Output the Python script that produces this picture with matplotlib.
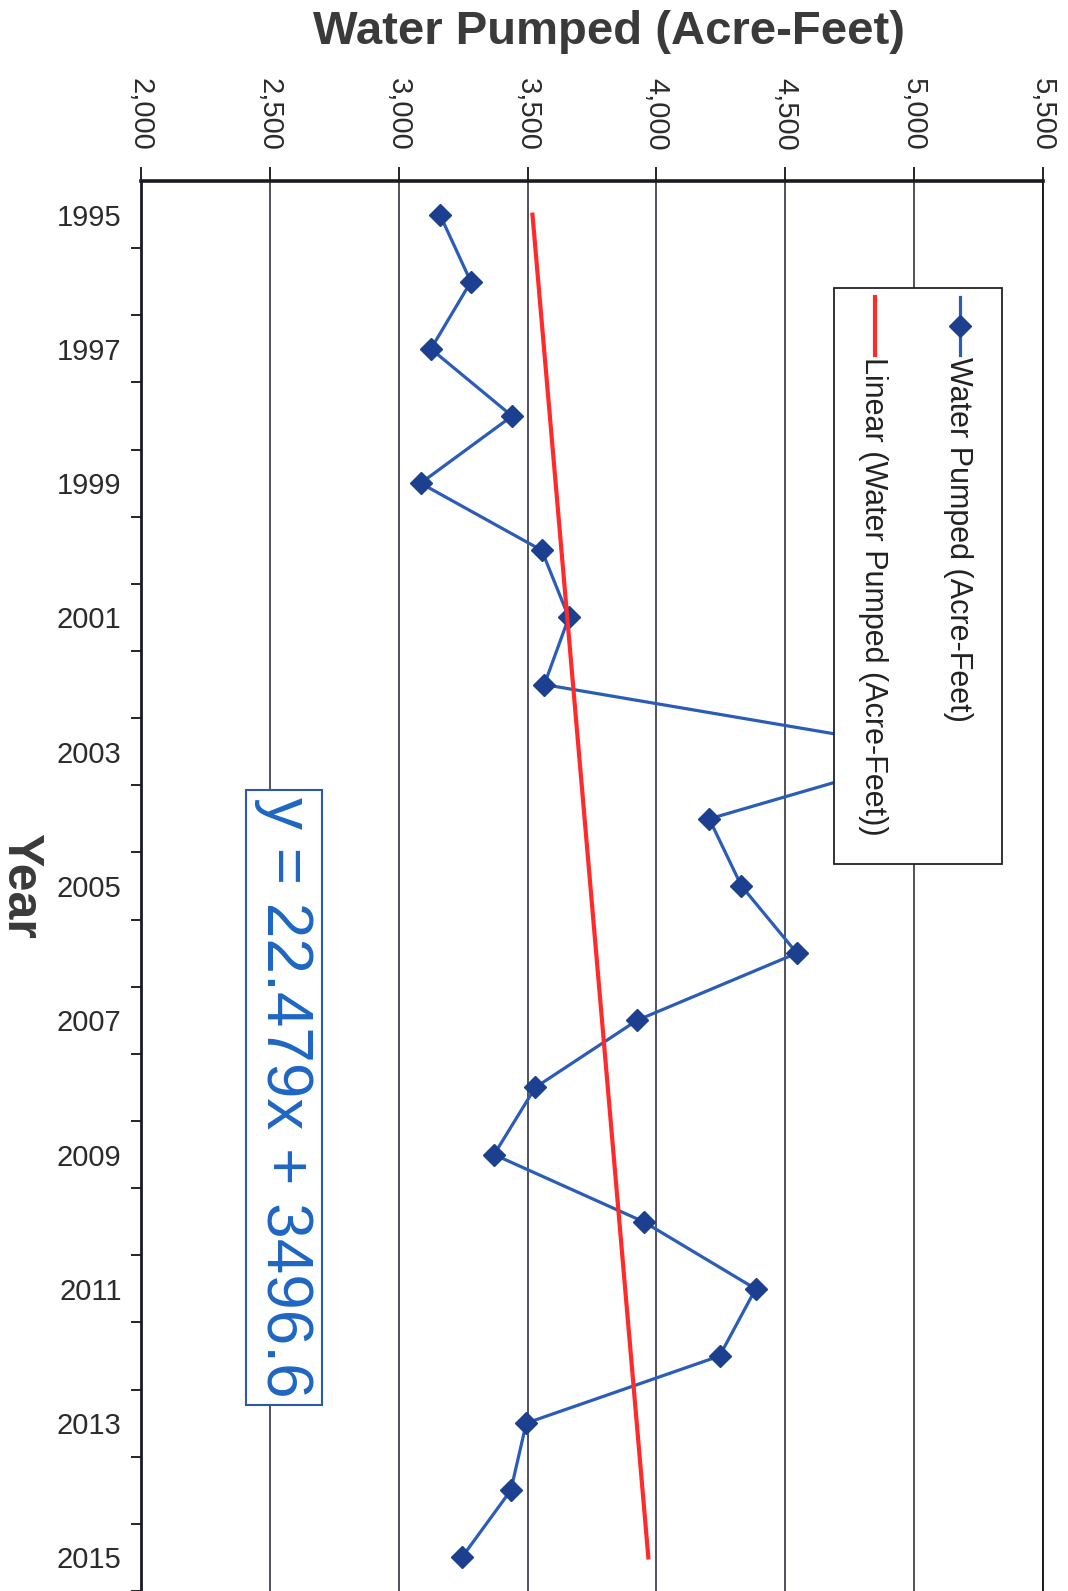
import numpy as np
import matplotlib.pyplot as plt
from matplotlib.lines import Line2D
from matplotlib.patches import Rectangle

plt.rcParams['font.family'] = ['Liberation Sans', 'DejaVu Sans']

# Data
years = list(range(1995, 2016))
water_pumped = [3160, 3280, 3125, 3440, 3085, 3555, 3660, 3565, 5100, 4205, 4330,
                4545, 3925, 3530, 3370, 3950, 4385, 4245, 3495, 3435, 3245]
trend_slope = 22.479
trend_intercept = 3496.6
x_ticks = [2000, 2500, 3000, 3500, 4000, 4500, 5000, 5500]
year_labels = [1995, 1997, 1999, 2001, 2003, 2005, 2007, 2009, 2011, 2013, 2015]

line_col = '#2a5cb8'
marker_col = '#1d3f8f'
red_col = '#ff2a2a'
eq_col = '#1e66c4'
txt_col = '#2b2b2b'

# trend line from the fitted equation (x = 1..n)
idx = np.arange(1, len(years) + 1)
trend = trend_slope * idx + trend_intercept

fig = plt.figure(figsize=(10.68, 15.91), dpi=100)
ax = fig.add_axes([0.132, 0.0, 0.8446, 0.8862])

# chart is drawn sideways: water on x, year on y (downward)
ax.plot(water_pumped, years, color=line_col, lw=2.3, marker='D', ms=11,
        mfc=marker_col, mec=marker_col, zorder=3)
ax.plot(trend, years, color=red_col, lw=3, zorder=4)

ax.set_xlim(2000, 5500)
ax.set_ylim(2015.5, 1994.5)

ax.set_xticks(x_ticks)
ax.set_xticklabels([f'{v:,}' for v in x_ticks], rotation=-90)
ax.xaxis.tick_top()
ax.tick_params(axis='x', which='major', direction='out', length=10, width=1.2,
               pad=12, labelsize=21, labelcolor=txt_col)
ax.grid(axis='x', color='#222230', lw=1.1)

ax.set_yticks(year_labels)
ax.set_yticklabels([str(y) for y in year_labels])
ax.set_yticks(np.arange(1995.5, 2016, 1), minor=True)
ax.tick_params(axis='y', which='major', length=0, pad=14, labelsize=21,
               labelcolor=txt_col)
ax.tick_params(axis='y', which='minor', direction='out', length=7, width=1.2)

ax.spines['bottom'].set_visible(False)
ax.spines['top'].set_linewidth(2.6)
ax.spines['left'].set_linewidth(2.0)
ax.spines['right'].set_linewidth(1.4)
for s in ['top', 'left', 'right']:
    ax.spines[s].set_color('#1a1a24')

# titles
ax.xaxis.set_label_position('top')
ax.set_xlabel('Water Pumped (Acre-Feet)', fontsize=34, fontweight='bold',
              color='#3a3a3a', va='center')
ax.xaxis.set_label_coords(0.519, 1.106)
ax.set_ylabel('Year', fontsize=36, fontweight='bold', color='#3a3a3a',
              rotation=-90, va='center', ha='center')
ax.yaxis.set_label_coords(-0.134, 0.5)

# trend equation
ax.text(0.1585, 0.35, f'y = {trend_slope}x + {trend_intercept}',
        transform=ax.transAxes, rotation=-90, fontsize=46, color=eq_col,
        ha='center', va='center', zorder=6,
        bbox=dict(boxstyle='square,pad=0.12', fc='white', ec='#2a5aa8', lw=1.5))

# legend drawn by hand so it can be turned sideways
ax.add_patch(Rectangle((0.768, 0.5156), 0.9545 - 0.768, 0.924 - 0.5156,
                       transform=ax.transAxes, fc='white', ec='#222222', lw=1.3,
                       zorder=7))
ax.add_line(Line2D([0.908, 0.908], [0.9177, 0.8766], transform=ax.transAxes,
                   color=line_col, lw=2.3, zorder=8))
ax.add_line(Line2D([0.908], [0.897], transform=ax.transAxes, marker='D', ms=11,
                   mfc=marker_col, mec=marker_col, zorder=8))
ax.text(0.906, 0.875, 'Water Pumped (Acre-Feet)', transform=ax.transAxes,
        rotation=-90, fontsize=22, color='#222222', ha='center', va='top', zorder=8)
ax.add_line(Line2D([0.8137, 0.8137], [0.9177, 0.8766], transform=ax.transAxes,
                   color=red_col, lw=3, zorder=8))
ax.text(0.8115, 0.875, 'Linear (Water Pumped (Acre-Feet))', transform=ax.transAxes,
        rotation=-90, fontsize=22, color='#222222', ha='center', va='top', zorder=8)

fig.savefig('out.png', dpi=100, facecolor='white')
